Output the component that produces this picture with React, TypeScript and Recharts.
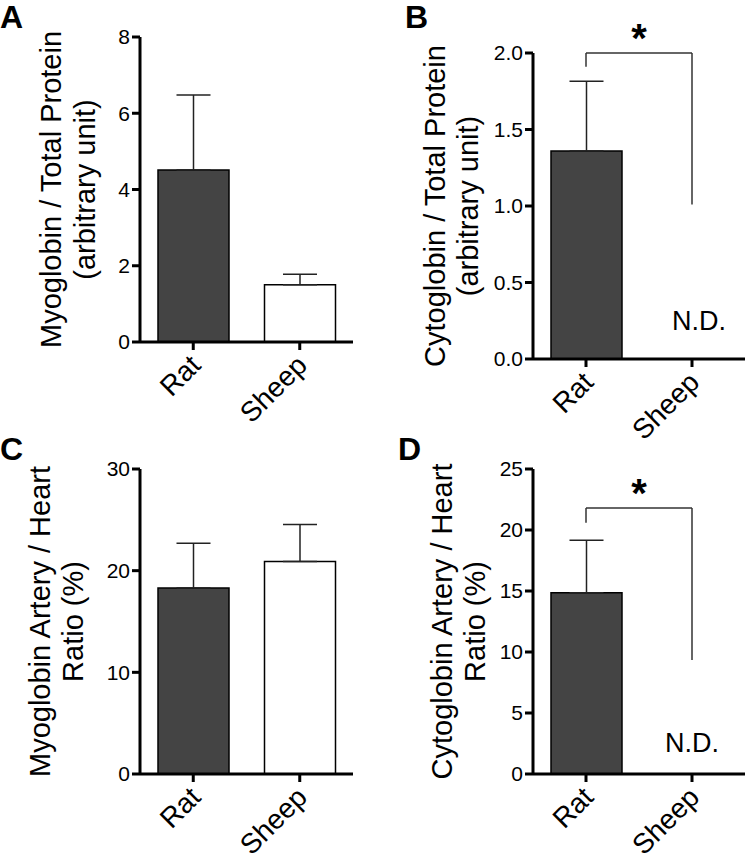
import React from 'react';
import { BarChart, Bar, Cell, XAxis, YAxis, ErrorBar, ReferenceLine, ReferenceDot } from 'recharts';

const FONT = "'Liberation Sans', Arial, Helvetica, sans-serif";

const categories = ['Rat', 'Sheep'];
const barColors = ['#444444', '#ffffff'];

// A: myoglobin / total protein
const myoProtein = [4.51, 1.5];
const myoProteinErr = [1.97, 0.28];
// B: cytoglobin / total protein (sheep not detected)
const cytoProtein = [1.36, 0];
const cytoProteinErr = [0.455, null];
// C: myoglobin artery / heart ratio
const myoRatio = [18.3, 20.9];
const myoRatioErr = [4.4, 3.65];
// D: cytoglobin artery / heart ratio (sheep not detected)
const cytoRatio = [14.85, 0];
const cytoRatioErr = [4.3, null];

const ticksA = [0, 2, 4, 6, 8];
const ticksB = [0, 0.5, 1, 1.5, 2];
const ticksC = [0, 10, 20, 30];
const ticksD = [0, 5, 10, 15, 20, 25];

// significance bracket: top, left leg end, right leg end
const bracketB = [2.0, 1.91, 1.01];
const bracketD = [21.8, 20.6, 9.35];
const ndLevelB = 0.19;
const ndLevelD = 1.8;

const makeData = (vals: number[], errs: (number | null)[]) =>
  categories.map((name, i) => ({
    name,
    value: vals[i],
    err: errs[i] == null ? null : [0, errs[i]],
  }));

const XTick = (props: any) => {
  const { x, y, payload } = props;
  const ax = x + 9;
  const ay = y + 15;
  return (
    <text x={ax} y={ay} transform={`rotate(-45, ${ax}, ${ay})`} textAnchor="end" fontSize={28} fill="#000" fontFamily={FONT}>
      {payload.value}
    </text>
  );
};

interface PanelProps {
  left: number;
  top: number;
  width: number;
  height: number;
  plotTop: number;
  plotBottom: number;
  right: number;
  yAxisWidth: number;
  domain: [number, number];
  ticks: number[];
  decimals: number;
  title: string[];
  titleOffsets: number[];
  data: any[];
  bracket?: number[];
  ndLevel?: number;
  ndDx?: number;
}

const Panel: React.FC<PanelProps> = (p) => {
  const cy = p.plotTop + (p.plotBottom - p.plotTop) / 2;
  const axisX = p.yAxisWidth;
  const axisStyle = { stroke: '#000', strokeWidth: 3 };
  return (
    <div style={{ position: 'absolute', left: p.left, top: p.top }}>
      <BarChart
        width={p.width}
        height={p.height}
        data={p.data}
        margin={{ top: p.plotTop, right: p.right, bottom: 0, left: 0 }}
      >
        <XAxis
          dataKey="name"
          height={p.height - p.plotBottom}
          stroke="#000"
          strokeWidth={3}
          axisLine={axisStyle}
          tickLine={axisStyle}
          tickSize={8}
          tick={<XTick />}
          interval={0}
        />
        <YAxis
          width={p.yAxisWidth}
          domain={p.domain}
          ticks={p.ticks}
          interval={0}
          stroke="#000"
          strokeWidth={3}
          axisLine={axisStyle}
          tickLine={axisStyle}
          tickSize={8}
          tickFormatter={(v: number) => v.toFixed(p.decimals)}
          tick={{ fontSize: 21, fill: '#000', fontFamily: FONT, stroke: 'none' }}
          label={{
            content: () => (
              <g>
                {p.title.map((line, i) => {
                  const bx = axisX - p.titleOffsets[i];
                  return (
                    <text
                      key={i}
                      x={bx}
                      y={cy}
                      transform={`rotate(-90, ${bx}, ${cy})`}
                      textAnchor="middle"
                      fontSize={29}
                      fill="#000"
                      fontFamily={FONT}
                    >
                      {line}
                    </text>
                  );
                })}
              </g>
            ),
          }}
        />
        <Bar dataKey="value" barSize={71} stroke="#000" strokeWidth={1.5} isAnimationActive={false}>
          {p.data.map((_, i) => (
            <Cell key={i} fill={barColors[i]} />
          ))}
          <ErrorBar dataKey="err" direction="y" width={17} stroke="#222" strokeWidth={1.5} isAnimationActive={false} />
        </Bar>
        {p.bracket && (
          <ReferenceLine
            segment={[{ x: 'Rat', y: p.bracket[0] }, { x: 'Sheep', y: p.bracket[0] }]}
            stroke="#333"
            strokeWidth={1.5}
            label={{
              content: (lp: any) => {
                const vb = lp.viewBox || {};
                return (
                  <text x={vb.x + vb.width / 2} y={vb.y - 1} textAnchor="middle" fontSize={40} fontWeight="bold" fill="#000" fontFamily={FONT}>
                    *
                  </text>
                );
              },
            }}
          />
        )}
        {p.bracket && (
          <ReferenceLine segment={[{ x: 'Rat', y: p.bracket[1] }, { x: 'Rat', y: p.bracket[0] }]} stroke="#333" strokeWidth={1.5} />
        )}
        {p.bracket && (
          <ReferenceLine segment={[{ x: 'Sheep', y: p.bracket[2] }, { x: 'Sheep', y: p.bracket[0] }]} stroke="#333" strokeWidth={1.5} />
        )}
        {p.ndLevel != null && (
          <ReferenceDot
            x="Sheep"
            y={p.ndLevel}
            r={0}
            fill="none"
            stroke="none"
            label={{
              content: (lp: any) => {
                const vb = lp.viewBox || {};
                return (
                  <text x={vb.x + (vb.width || 0) / 2 + (p.ndDx || 0)} y={vb.y + (vb.height || 0) / 2} textAnchor="middle" fontSize={27} fill="#000" fontFamily={FONT}>
                    N.D.
                  </text>
                );
              },
            }}
          />
        )}
      </BarChart>
    </div>
  );
};

export default function App() {
  return (
    <div style={{ position: 'absolute', left: 0, top: 0, width: 747, height: 863, background: '#fff', overflow: 'hidden' }}>
      <Panel
        left={0} top={430} width={370} height={433}
        plotTop={39} plotBottom={344} right={17} yAxisWidth={140}
        domain={[0, 30]} ticks={ticksC} decimals={0}
        title={['Myoglobin Artery / Heart', 'Ratio (%)']} titleOffsets={[90, 57]}
        data={makeData(myoRatio, myoRatioErr)}
      />
      <Panel
        left={370} top={430} width={377} height={433}
        plotTop={39} plotBottom={344} right={2} yAxisWidth={163}
        domain={[0, 25]} ticks={ticksD} decimals={0}
        title={['Cytoglobin Artery / Heart', 'Ratio (%)']} titleOffsets={[81, 48]}
        data={makeData(cytoRatio, cytoRatioErr)}
        bracket={bracketD} ndLevel={ndLevelD} ndDx={0}
      />
      <Panel
        left={0} top={0} width={370} height={475}
        plotTop={37} plotBottom={342} right={17} yAxisWidth={140}
        domain={[0, 8]} ticks={ticksA} decimals={0}
        title={['Myoglobin / Total Protein', '(arbitrary unit)']} titleOffsets={[79, 45]}
        data={makeData(myoProtein, myoProteinErr)}
      />
      <Panel
        left={370} top={0} width={377} height={475}
        plotTop={53} plotBottom={359} right={2} yAxisWidth={163}
        domain={[0, 2]} ticks={ticksB} decimals={1}
        title={['Cytoglobin / Total Protein', '(arbitrary unit)']} titleOffsets={[88, 55]}
        data={makeData(cytoProtein, cytoProteinErr)}
        bracket={bracketB} ndLevel={ndLevelB} ndDx={7}
      />
      <svg width={747} height={863} style={{ position: 'absolute', left: 0, top: 0, pointerEvents: 'none' }}>
        <g fontFamily={FONT} fontWeight="bold" fontSize={32} fill="#000">
          <text x={0} y={28}>A</text>
          <text x={405} y={28}>B</text>
          <text x={0} y={460}>C</text>
          <text x={398} y={460}>D</text>
        </g>
      </svg>
    </div>
  );
}
